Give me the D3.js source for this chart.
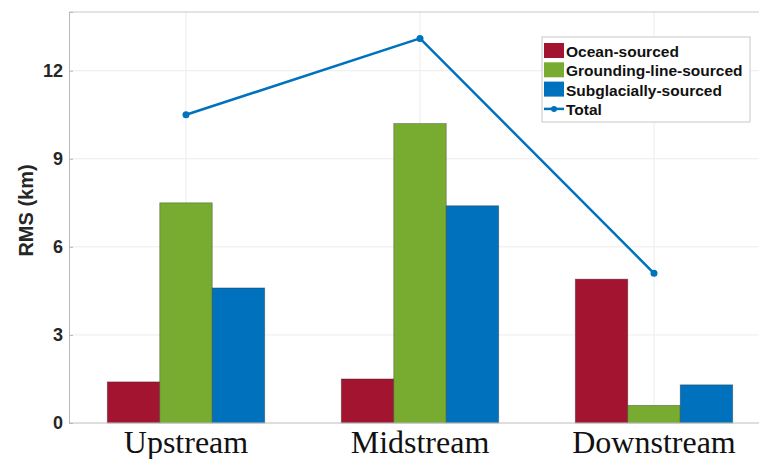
<!DOCTYPE html>
<html>
<head>
<meta charset="utf-8">
<script src="https://cdn.jsdelivr.net/npm/d3@7"></script>
<style>
  body { margin: 0; background: #fff; }
  svg { display: block; }
</style>
</head>
<body>
<div id="chart"></div>
<script>
// data
const categories = ["Upstream", "Midstream", "Downstream"];
const seriesNames = ["Ocean-sourced", "Grounding-line-sourced", "Subglacially-sourced"];
const ocean = [1.4, 1.5, 4.9];
const grounding = [7.5, 10.2, 0.6];
const subglacial = [4.6, 7.4, 1.3];
const total = [10.5, 13.1, 5.1];
const yTicks = [0, 3, 6, 9, 12];

const colors = ["#A2142F", "#77AC30", "#0072BD"];
const lineColor = "#0072BD";

const width = 759, height = 459;
const margin = {top: 12, right: -12, bottom: 36, left: 69};

const svg = d3.select("#chart").append("svg")
  .attr("width", width)
  .attr("height", height);

const x = d3.scaleBand()
  .domain(categories)
  .range([margin.left, width - margin.right]);

const xSub = d3.scaleBand()
  .domain(seriesNames)
  .range([0, x.bandwidth()])
  .paddingOuter(0.73);

const y = d3.scaleLinear()
  .domain([0, 14])
  .range([height - margin.bottom, margin.top]);

// grid
svg.append("g")
  .selectAll("line")
  .data(yTicks)
  .join("line")
  .attr("x1", margin.left).attr("x2", width)
  .attr("y1", d => y(d)).attr("y2", d => y(d))
  .attr("stroke", "#ececec").attr("stroke-width", 1);

svg.append("g")
  .selectAll("line")
  .data(categories)
  .join("line")
  .attr("x1", d => x(d) + x.bandwidth() / 2).attr("x2", d => x(d) + x.bandwidth() / 2)
  .attr("y1", y(14)).attr("y2", y(0))
  .attr("stroke", "#ececec").attr("stroke-width", 1);

// bars
const rows = categories.map((c, i) => ({
  cat: c,
  vals: [ocean[i], grounding[i], subglacial[i]]
}));

svg.append("g")
  .selectAll("g")
  .data(rows)
  .join("g")
  .attr("transform", d => `translate(${x(d.cat)},0)`)
  .selectAll("rect")
  .data(d => d.vals.map((v, j) => ({name: seriesNames[j], value: v, color: colors[j]})))
  .join("rect")
  .attr("x", d => xSub(d.name))
  .attr("y", d => y(d.value))
  .attr("width", xSub.bandwidth())
  .attr("height", d => y(0) - y(d.value))
  .attr("fill", d => d.color)
  .attr("stroke", "#2b2b2b")
  .attr("stroke-opacity", 0.45)
  .attr("stroke-width", 0.8);

// axes frame
svg.append("line")
  .attr("x1", margin.left).attr("x2", width)
  .attr("y1", y(14)).attr("y2", y(14))
  .attr("stroke", "#c8c8c8");
svg.append("line")
  .attr("x1", margin.left).attr("x2", width)
  .attr("y1", y(0)).attr("y2", y(0))
  .attr("stroke", "#c8c8c8");

const yAxis = svg.append("g")
  .attr("transform", `translate(${margin.left},0)`)
  .call(d3.axisLeft(y).tickValues(yTicks).tickSize(-4).tickPadding(6));
yAxis.select(".domain").attr("stroke", "#b8b8b8");
yAxis.selectAll(".tick line").attr("stroke", "#b8b8b8");
yAxis.selectAll("text")
  .style("font-family", "Arial, 'Liberation Sans', sans-serif")
  .style("font-size", "18px")
  .style("font-weight", "bold")
  .style("fill", "#262626");

// x labels
svg.append("g")
  .selectAll("text")
  .data(categories)
  .join("text")
  .attr("x", d => x(d) + x.bandwidth() / 2)
  .attr("y", 453)
  .attr("text-anchor", "middle")
  .style("font-family", "'Times New Roman', 'Liberation Serif', serif")
  .style("font-size", "32px")
  .style("fill", "#111")
  .text(d => d);

// y title
svg.append("text")
  .attr("transform", `translate(33,${y(7) - 7}) rotate(-90)`)
  .attr("text-anchor", "middle")
  .style("font-family", "Arial, 'Liberation Sans', sans-serif")
  .style("font-size", "20px")
  .style("font-weight", "bold")
  .style("fill", "#262626")
  .text("RMS (km)");

// total line
const line = d3.line()
  .x((d, i) => x(categories[i]) + x.bandwidth() / 2)
  .y(d => y(d));

svg.append("path")
  .datum(total)
  .attr("d", line)
  .attr("fill", "none")
  .attr("stroke", lineColor)
  .attr("stroke-width", 2.5);

svg.append("g")
  .selectAll("circle")
  .data(total)
  .join("circle")
  .attr("cx", (d, i) => x(categories[i]) + x.bandwidth() / 2)
  .attr("cy", d => y(d))
  .attr("r", 3.5)
  .attr("fill", lineColor);

// legend
const lg = svg.append("g").attr("transform", "translate(542,37)");
lg.append("rect")
  .attr("width", 208).attr("height", 85)
  .attr("fill", "#fff")
  .attr("stroke", "#c8c8c8");

const legendItems = seriesNames.map((n, i) => ({name: n, color: colors[i], type: "bar"}))
  .concat([{name: "Total", color: lineColor, type: "line"}]);

const li = lg.selectAll("g")
  .data(legendItems)
  .join("g")
  .attr("transform", (d, i) => `translate(0,${20 + i * 19.3})`);

li.filter(d => d.type === "bar").append("rect")
  .attr("x", 2).attr("y", -14)
  .attr("width", 20).attr("height", 15)
  .attr("fill", d => d.color);

li.filter(d => d.type === "line").append("line")
  .attr("x1", 2).attr("x2", 22).attr("y1", -6).attr("y2", -6)
  .attr("stroke", d => d.color).attr("stroke-width", 2.5);
li.filter(d => d.type === "line").append("circle")
  .attr("cx", 12).attr("cy", -6).attr("r", 3)
  .attr("fill", d => d.color);

li.append("text")
  .attr("x", 24)
  .attr("y", 0)
  .style("font-family", "Arial, 'Liberation Sans', sans-serif")
  .style("font-size", "15.5px")
  .style("font-weight", "bold")
  .style("fill", "#111")
  .text(d => d.name);
</script>
</body>
</html>
